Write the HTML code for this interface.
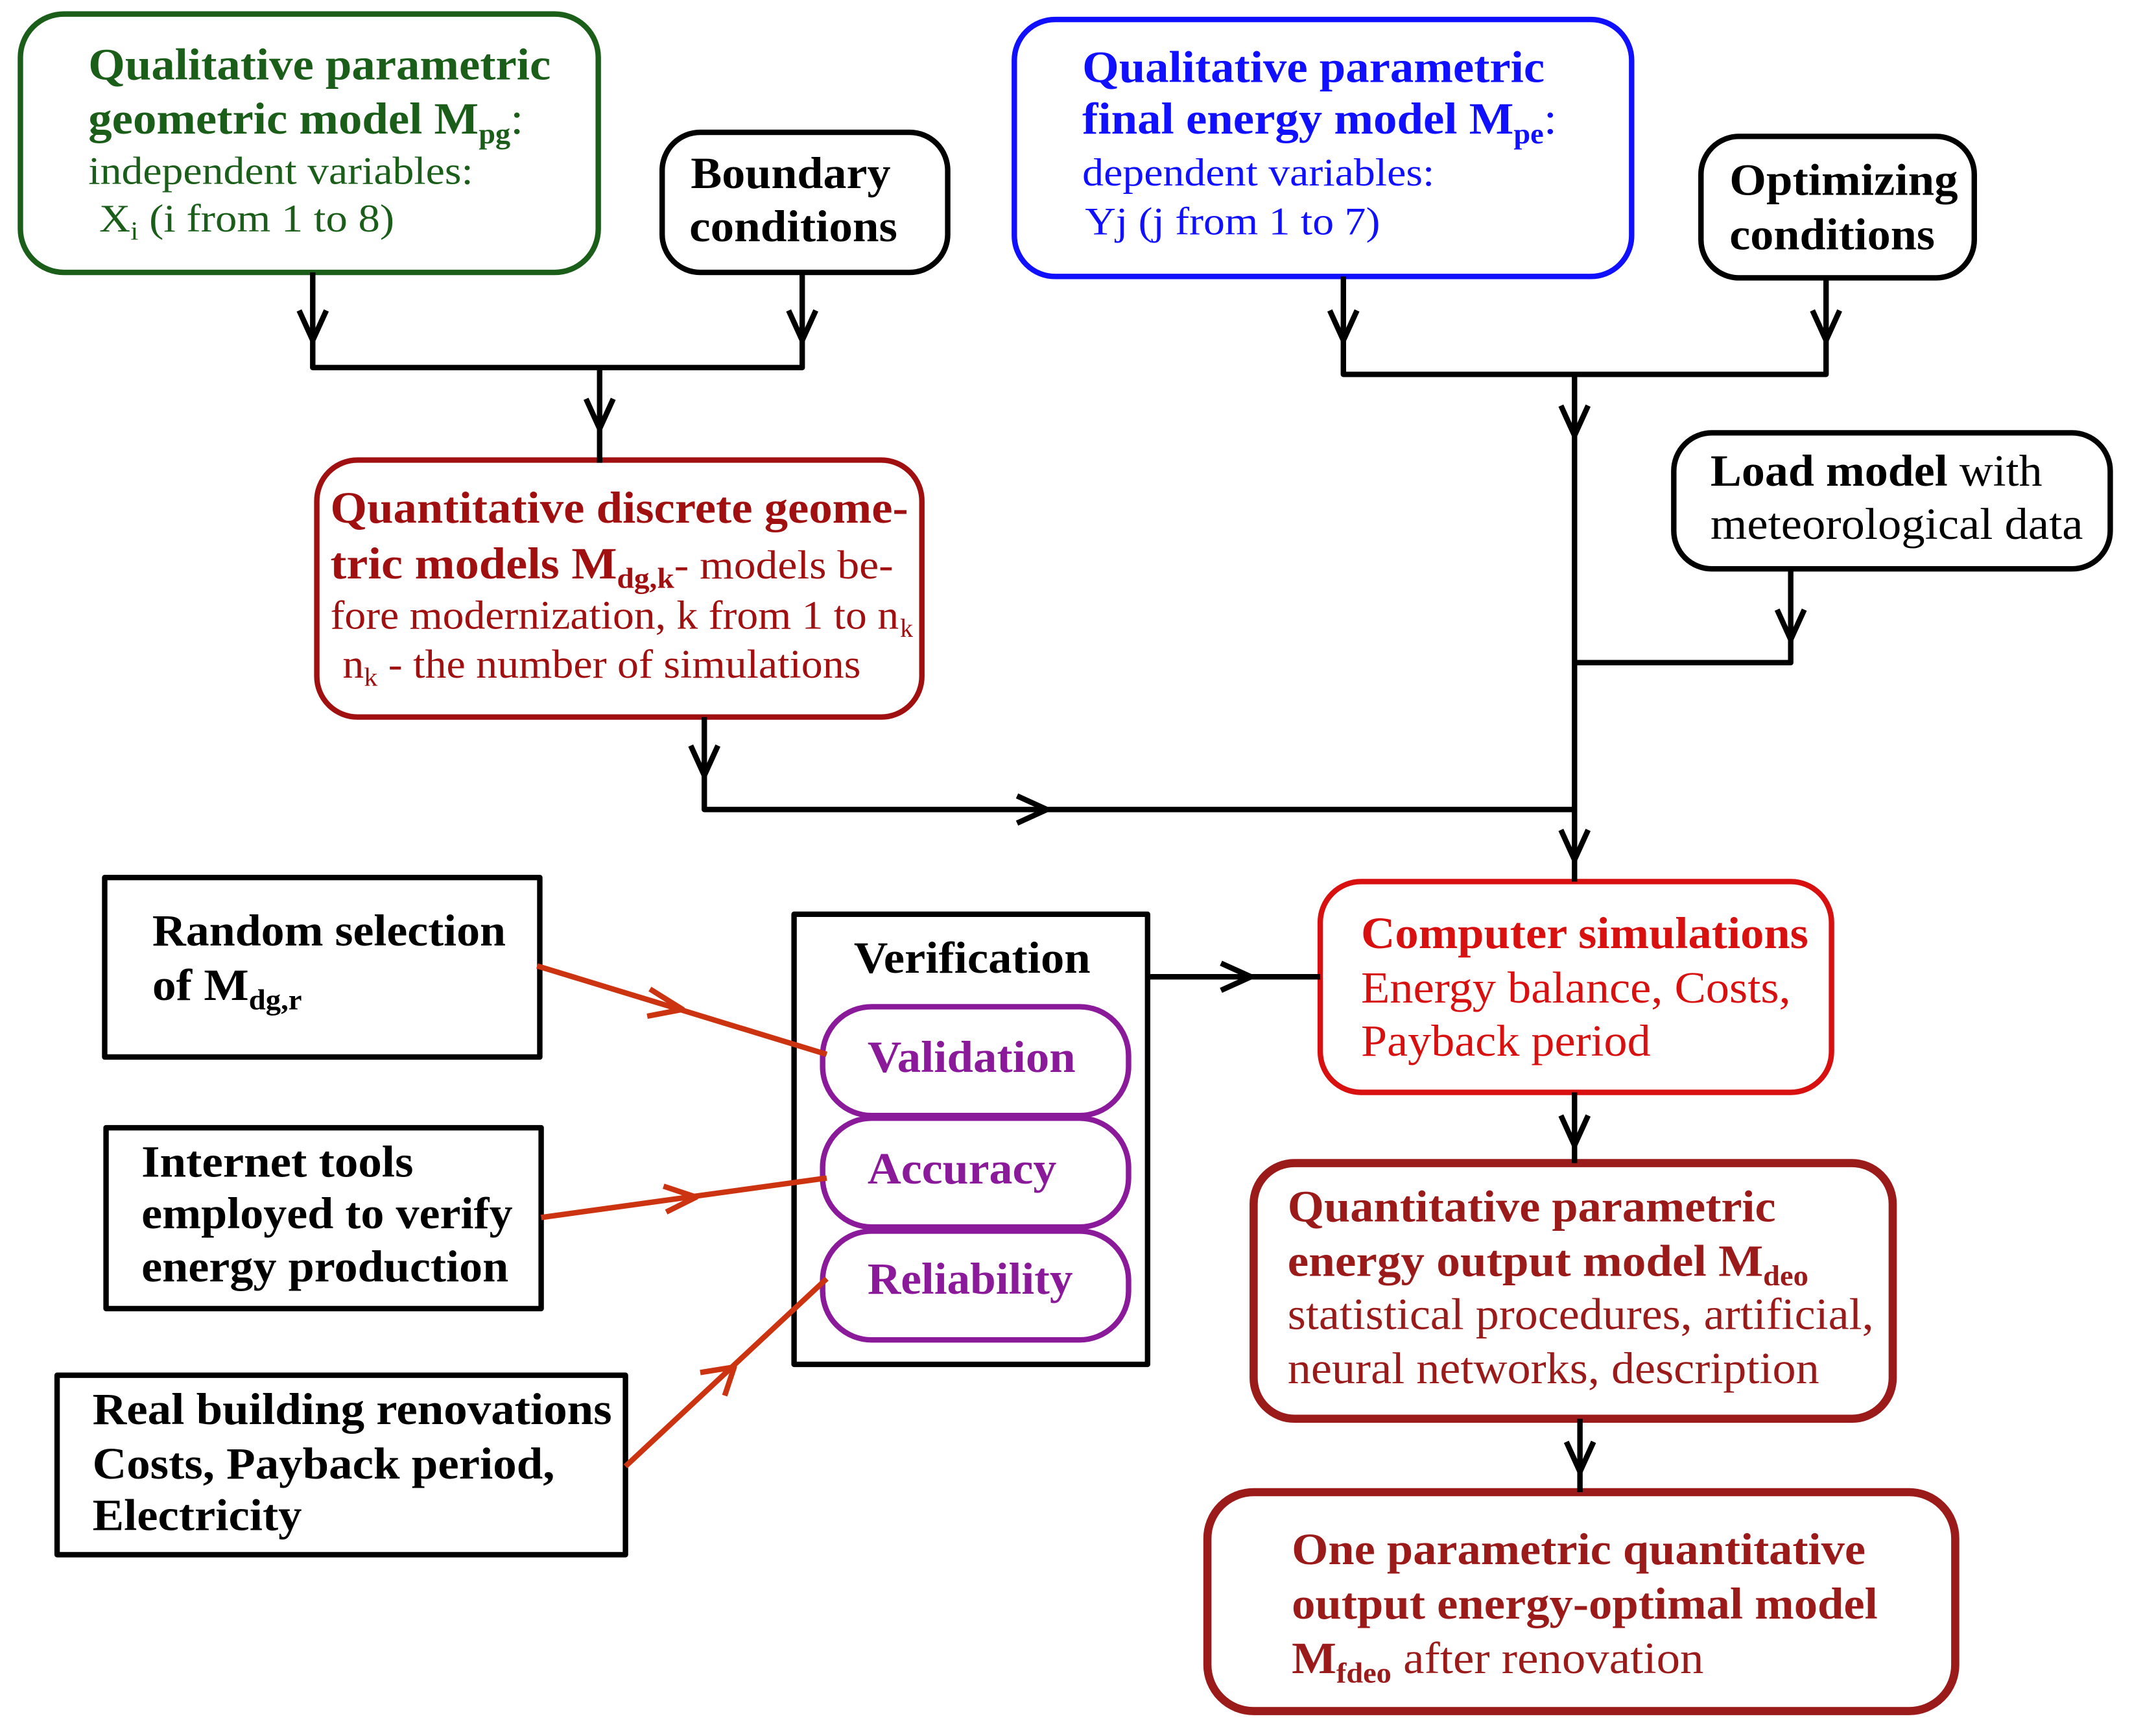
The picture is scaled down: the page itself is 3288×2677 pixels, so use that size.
<!DOCTYPE html>
<html><head><meta charset="utf-8"><style>html,body{margin:0;padding:0;background:#fff}svg{display:block}</style></head>
<body>
<svg xmlns="http://www.w3.org/2000/svg" width="3288" height="2677" viewBox="0 0 1568 1276" font-family="'Liberation Serif', serif">
<rect width="1568" height="1276" fill="#fff"/>
<g fill="none" stroke-linejoin="round">
<rect x="15" y="10" width="425" height="190" rx="32" stroke="#1a5e1a" stroke-width="4"/>
<rect x="487" y="97" width="210" height="103" rx="28" stroke="#000" stroke-width="4"/>
<rect x="746" y="14" width="454" height="189" rx="30" stroke="#1010ff" stroke-width="4"/>
<rect x="1251" y="100" width="201" height="104" rx="28" stroke="#000" stroke-width="4"/>
<rect x="1231" y="318" width="321" height="100" rx="28" stroke="#000" stroke-width="4"/>
<rect x="233" y="338" width="445" height="189" rx="30" stroke="#a01010" stroke-width="4"/>
<rect x="971" y="648" width="376" height="155" rx="30" stroke="#d81010" stroke-width="4"/>
<rect x="584" y="672" width="260" height="331" stroke="#000" stroke-width="4"/>
<rect x="605" y="740" width="225" height="80" rx="36" stroke="#8a1a9a" stroke-width="4"/>
<rect x="605" y="822" width="225" height="80" rx="36" stroke="#8a1a9a" stroke-width="4"/>
<rect x="605" y="905" width="225" height="80" rx="36" stroke="#8a1a9a" stroke-width="4"/>
<rect x="922" y="855" width="470" height="188" rx="30" stroke="#9b1a1a" stroke-width="6"/>
<rect x="888" y="1097" width="550" height="161" rx="34" stroke="#9b1a1a" stroke-width="6"/>
<rect x="77" y="645" width="320" height="132" stroke="#000" stroke-width="4"/>
<rect x="78" y="829" width="320" height="133" stroke="#000" stroke-width="4"/>
<rect x="42" y="1011" width="418" height="132" stroke="#000" stroke-width="4"/>

<g stroke="#000" stroke-width="4">
<polyline points="230,200 230,270 590,270 590,200"/>
<polyline points="441,270 441,340"/>
<polyline points="988,203 988,275 1343,275 1343,204"/>
<polyline points="1158,275 1158,648"/>
<polyline points="1317,418 1317,487 1158,487"/>
<polyline points="518,527 518,595 1158,595"/>
<polyline points="844,718 971,718"/>
<polyline points="1158,803 1158,855"/>
<polyline points="1162,1043 1162,1097"/>
<polyline points="220,228 230,250 240,228"/>
<polyline points="580,228 590,250 600,228"/>
<polyline points="431,293 441,315 451,293"/>
<polyline points="978,228 988,250 998,228"/>
<polyline points="1333,228 1343,250 1353,228"/>
<polyline points="1148,298 1158,320 1168,298"/>
<polyline points="1307,448 1317,470 1327,448"/>
<polyline points="508,548 518,570 528,548"/>
<polyline points="748,585 770,595 748,605"/>
<polyline points="1148,610 1158,632 1168,610"/>
<polyline points="898,708 920,718 898,728"/>
<polyline points="1148,820 1158,842 1168,820"/>
<polyline points="1152,1060 1162,1082 1172,1060"/>
</g>
<g stroke="#cc3311" stroke-width="4">
<line x1="395" y1="710" x2="608" y2="775"/>
<line x1="398" y1="895" x2="608" y2="866"/>
<line x1="460" y1="1078" x2="608" y2="940"/>
<polyline points="478,727 502,742 476,747"/>
<polyline points="488,872 512,880 490,891"/>
<polyline points="515,1009 540,1005 533,1026"/>
</g>
</g>

<g font-size="33" lengthAdjust="spacingAndGlyphs">
<g fill="#1a5e1a">
<text x="65" y="58" font-weight="bold" textLength="340" lengthAdjust="spacingAndGlyphs">Qualitative parametric</text>
<text x="65" y="98" font-weight="bold" textLength="320" lengthAdjust="spacingAndGlyphs">geometric model M<tspan font-size="21" dy="7">pg</tspan><tspan dy="-7" font-weight="normal">:</tspan></text>
<text x="65" y="135" font-size="29" textLength="283" lengthAdjust="spacingAndGlyphs">independent variables:</text>
<text x="73" y="170" font-size="29" textLength="217" lengthAdjust="spacingAndGlyphs">X<tspan font-size="19" dy="6">i</tspan><tspan dy="-6"> (i from 1 to 8)</tspan></text>
</g>
<g fill="#000" font-weight="bold">
<text x="508" y="138" textLength="147" lengthAdjust="spacingAndGlyphs">Boundary</text>
<text x="507" y="177" textLength="153" lengthAdjust="spacingAndGlyphs">conditions</text>
<text x="1272" y="143" textLength="168" lengthAdjust="spacingAndGlyphs">Optimizing</text>
<text x="1272" y="183" textLength="151" lengthAdjust="spacingAndGlyphs">conditions</text>
<text x="1258" y="357" textLength="244" lengthAdjust="spacingAndGlyphs">Load model <tspan font-weight="normal">with</tspan></text>
<text x="1258" y="396" font-weight="normal" textLength="274" lengthAdjust="spacingAndGlyphs">meteorological data</text>
</g>
<g fill="#1010ff">
<text x="796" y="60" font-weight="bold" textLength="340" lengthAdjust="spacingAndGlyphs">Qualitative parametric</text>
<text x="796" y="98" font-weight="bold" textLength="349" lengthAdjust="spacingAndGlyphs">final energy model M<tspan font-size="21" dy="7">pe</tspan><tspan dy="-7" font-weight="normal">:</tspan></text>
<text x="796" y="136" font-size="29" textLength="259" lengthAdjust="spacingAndGlyphs">dependent variables:</text>
<text x="798" y="172" font-size="29" textLength="217" lengthAdjust="spacingAndGlyphs">Yj (j from 1 to 7)</text>
</g>
<g fill="#a01010">
<text x="243" y="384" font-weight="bold" textLength="425" lengthAdjust="spacingAndGlyphs">Quantitative discrete geome-</text>
<text x="243" y="425" textLength="414" lengthAdjust="spacingAndGlyphs"><tspan font-weight="bold">tric models M</tspan><tspan font-weight="bold" font-size="21" dy="7">dg,k</tspan><tspan dy="-7" font-size="30">- models be-</tspan></text>
<text x="243" y="462" font-size="30" textLength="418" lengthAdjust="spacingAndGlyphs">fore modernization, k from 1 to n</text><text x="662" y="468" font-size="19">k</text>
<text x="252" y="498" font-size="30" textLength="381" lengthAdjust="spacingAndGlyphs">n<tspan font-size="19" dy="6">k</tspan><tspan dy="-6"> - the number of simulations</tspan></text>
</g>
<g fill="#d81010">
<text x="1001" y="697" font-weight="bold" textLength="329" lengthAdjust="spacingAndGlyphs">Computer simulations</text>
<text x="1001" y="737" textLength="316" lengthAdjust="spacingAndGlyphs">Energy balance, Costs,</text>
<text x="1001" y="776" textLength="213" lengthAdjust="spacingAndGlyphs">Payback period</text>
</g>
<text x="628" y="715" font-weight="bold" textLength="174" lengthAdjust="spacingAndGlyphs">Verification</text>
<g fill="#8a1a9a" font-weight="bold">
<text x="638" y="788" textLength="153" lengthAdjust="spacingAndGlyphs">Validation</text>
<text x="638" y="870" textLength="139" lengthAdjust="spacingAndGlyphs">Accuracy</text>
<text x="638" y="951" textLength="151" lengthAdjust="spacingAndGlyphs">Reliability</text>
</g>
<g fill="#9b1a1a">
<text x="947" y="898" font-weight="bold" textLength="359" lengthAdjust="spacingAndGlyphs">Quantitative parametric</text>
<text x="947" y="938" font-weight="bold" textLength="383" lengthAdjust="spacingAndGlyphs">energy output model M<tspan font-size="21" dy="7">deo</tspan></text>
<text x="947" y="977" textLength="431" lengthAdjust="spacingAndGlyphs">statistical procedures, artificial,</text>
<text x="947" y="1017" textLength="391" lengthAdjust="spacingAndGlyphs">neural networks, description</text>
<text x="950" y="1150" font-weight="bold" textLength="422" lengthAdjust="spacingAndGlyphs">One parametric quantitative</text>
<text x="950" y="1190" font-weight="bold" textLength="431" lengthAdjust="spacingAndGlyphs">output energy-optimal model</text>
<text x="950" y="1230" textLength="303" lengthAdjust="spacingAndGlyphs"><tspan font-weight="bold">M</tspan><tspan font-weight="bold" font-size="21" dy="7">fdeo</tspan><tspan dy="-7"> after renovation</tspan></text>
</g>
<g fill="#000" font-weight="bold">
<text x="112" y="695" textLength="260" lengthAdjust="spacingAndGlyphs">Random selection</text>
<text x="112" y="735" textLength="110" lengthAdjust="spacingAndGlyphs">of M<tspan font-size="21" dy="7">dg,r</tspan></text>
<text x="104" y="865" textLength="200" lengthAdjust="spacingAndGlyphs">Internet tools</text>
<text x="104" y="903" textLength="273" lengthAdjust="spacingAndGlyphs">employed to verify</text>
<text x="104" y="942" textLength="270" lengthAdjust="spacingAndGlyphs">energy production</text>
<text x="68" y="1047" textLength="382" lengthAdjust="spacingAndGlyphs">Real building renovations</text>
<text x="68" y="1087" textLength="340" lengthAdjust="spacingAndGlyphs">Costs, Payback period,</text>
<text x="68" y="1125" textLength="154" lengthAdjust="spacingAndGlyphs">Electricity</text>
</g>
</g>
</svg>
</body></html>
